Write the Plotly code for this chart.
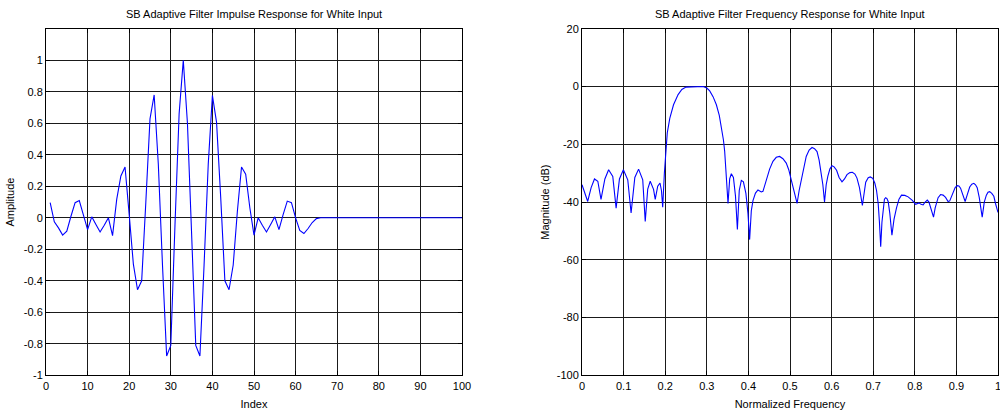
import plotly.graph_objects as go

# ---------------- data ----------------
imp_index = list(range(1, 101))
imp_values = [
    0.096, -0.026, -0.064, -0.11, -0.085, 0.01, 0.096, 0.11, 0.017, -0.075,
    0.006, -0.043, -0.09, -0.047, 0.0, -0.113, 0.117, 0.266, 0.323, 0.02,
    -0.294, -0.457, -0.4, 0.1, 0.628, 0.78, 0.34, -0.3, -0.877, -0.81,
    -0.05, 0.66, 1.0, 0.6, -0.1, -0.81, -0.877, -0.3, 0.34, 0.777,
    0.606, 0.128, -0.4, -0.457, -0.3, 0.04, 0.323, 0.277, 0.064, -0.11,
    0.0, -0.047, -0.09, -0.043, 0.006, -0.075, 0.02, 0.106, 0.096, 0.0,
    -0.08, -0.10, -0.068, -0.03, -0.005, 0.0, 0.0, 0.0, 0.0, 0.0,
    0.0, 0.0, 0.0, 0.0, 0.0, 0.0, 0.0, 0.0, 0.0, 0.0,
    0.0, 0.0, 0.0, 0.0, 0.0, 0.0, 0.0, 0.0, 0.0, 0.0,
    0.0, 0.0, 0.0, 0.0, 0.0, 0.0, 0.0, 0.0, 0.0, 0.0,
]

freq = [
    0.000, 0.0137, 0.022, 0.030, 0.038, 0.0457, 0.055, 0.064, 0.074, 0.082,
    0.090, 0.0995, 0.110, 0.118, 0.127, 0.136, 0.146, 0.152, 0.158, 0.164,
    0.172, 0.176, 0.182, 0.1875, 0.191, 0.194, 0.198, 0.202, 0.205, 0.211,
    0.220, 0.231, 0.240, 0.250, 0.268, 0.291, 0.300, 0.307, 0.315, 0.323,
    0.330, 0.335, 0.340, 0.343, 0.347, 0.351, 0.355, 0.359, 0.364, 0.369,
    0.3735, 0.378, 0.383, 0.388, 0.394, 0.399, 0.403, 0.407, 0.411, 0.417,
    0.423, 0.431, 0.435, 0.443, 0.451, 0.459, 0.467, 0.475, 0.483, 0.491,
    0.497, 0.503, 0.510, 0.517, 0.522, 0.527, 0.533, 0.539, 0.546, 0.553,
    0.559, 0.565, 0.570, 0.575, 0.579, 0.583, 0.587, 0.591, 0.596, 0.601,
    0.606, 0.612, 0.618, 0.625, 0.631, 0.637, 0.644, 0.650, 0.656, 0.661,
    0.667, 0.674, 0.678, 0.682, 0.688, 0.693, 0.699, 0.704, 0.708, 0.712,
    0.715, 0.718, 0.721, 0.724, 0.727, 0.730, 0.733, 0.736, 0.740, 0.745,
    0.750, 0.756, 0.762, 0.768, 0.776, 0.784, 0.790, 0.794, 0.802, 0.810,
    0.815, 0.820, 0.825, 0.830, 0.834, 0.838, 0.845, 0.849, 0.852, 0.856,
    0.862, 0.868, 0.874, 0.880, 0.884, 0.888, 0.892, 0.897, 0.902, 0.906,
    0.910, 0.916, 0.921, 0.926, 0.932, 0.937, 0.942, 0.946, 0.950, 0.955,
    0.962, 0.967, 0.972, 0.976, 0.980, 0.985, 0.990, 0.994, 1.000,
]
mag_db = [
    -34.0, -39.8, -35.0, -32.0, -32.8, -39.1, -32.0, -28.8, -31.1, -42.1,
    -32.0, -28.8, -32.3, -43.8, -31.5, -28.6, -32.3, -46.7, -35.5, -32.8,
    -35.6, -39.1, -34.5, -33.4, -36.0, -41.8, -30.0, -19.6, -16.0, -11.0,
    -6.3, -2.8, -1.0, -0.2, 0.0, 0.0, -0.5, -1.5, -3.5, -6.3,
    -10.0, -13.8, -18.5, -22.5, -30.0, -40.5, -32.0, -30.2, -31.5, -38.0,
    -49.5, -36.0, -32.5, -33.0, -37.0, -44.0, -53.0, -43.0, -39.5, -36.9,
    -35.8, -36.5, -36.3, -32.3, -28.6, -25.9, -24.5, -24.2, -25.0, -26.5,
    -28.8, -32.3, -36.0, -40.5, -36.0, -32.3, -27.5, -24.2, -22.0, -21.1,
    -21.5, -22.5, -25.5, -30.0, -34.0, -40.0, -34.0, -31.0, -28.5, -27.4,
    -27.8, -29.0, -31.5, -33.0, -32.0, -30.5, -29.8, -29.7, -30.3, -31.7,
    -35.0, -41.2, -36.0, -33.1, -31.6, -31.3, -31.8, -33.5, -36.0, -40.5,
    -47.0, -55.5, -47.0, -41.4, -39.0, -38.5, -38.8, -39.8, -44.0, -51.5,
    -46.0, -42.0, -39.0, -37.6, -37.7, -38.2, -38.8, -39.4, -40.8, -40.3,
    -40.8, -41.0, -40.0, -39.3, -40.0, -42.0, -45.2, -42.0, -40.5, -38.5,
    -37.4, -37.6, -38.4, -39.8, -39.6, -38.2, -36.8, -35.0, -34.3, -34.4,
    -35.2, -37.5, -39.8, -37.5, -34.8, -33.8, -33.5, -34.0, -35.0, -38.5,
    -45.2, -40.0, -37.6, -36.6, -36.4, -37.0, -38.0, -40.5, -43.6,
]

left_yticks = [-1, -0.8, -0.6, -0.4, -0.2, 0, 0.2, 0.4, 0.6, 0.8, 1]
left_ytext = ["-1", "-0.8", "-0.6", "-0.4", "-0.2", "0", "0.2", "0.4", "0.6", "0.8", "1"]
left_xticks = [0, 10, 20, 30, 40, 50, 60, 70, 80, 90, 100]
right_yticks = [-100, -80, -60, -40, -20, 0, 20]
right_ytext = ["-100", "-80", "-60", "-40", "-20", "0", "20"]
right_xticks = [0, 0.1, 0.2, 0.3, 0.4, 0.5, 0.6, 0.7, 0.8, 0.9, 1]
right_xtext = ["0", "0.1", "0.2", "0.3", "0.4", "0.5", "0.6", "0.7", "0.8", "0.9", "1"]

FONT = "Liberation Sans, Arial, sans-serif"

fig = go.Figure()
fig.add_trace(go.Scatter(x=imp_index, y=imp_values, mode="lines",
                         line=dict(color="#0000ff", width=1.1, simplify=False),
                         xaxis="x", yaxis="y", showlegend=False))
fig.add_trace(go.Scatter(x=freq, y=mag_db, mode="lines",
                         line=dict(color="#0000ff", width=1.1),
                         xaxis="x2", yaxis="y2", showlegend=False))

axis_common = dict(showline=True, linecolor="black", linewidth=1, mirror="ticks",
                   ticks="inside", ticklen=4, tickcolor="black",
                   showgrid=True, gridcolor="#1a1a1a", gridwidth=1,
                   zeroline=False, automargin=False, ticklabeloverflow="allow",
                   layer="below traces",
                   tickfont=dict(family=FONT, size=11, color="black"))

# plot area offset by a fraction of a pixel so the zero gridline does not
# hide the flat tail of the impulse response
y_dom = [1 - 375.3 / 413, 1 - 28.8 / 413]

fig.update_layout(
    width=1000, height=413,
    margin=dict(l=0, r=0, t=0, b=0, autoexpand=False),
    paper_bgcolor="white", plot_bgcolor="white",
    font=dict(family=FONT, size=11, color="black"),
    xaxis=dict(domain=[0.046, 0.462], range=[0, 100], tickvals=left_xticks,
               title=dict(text="Index", font=dict(family=FONT, size=11), standoff=9),
               anchor="y", **axis_common),
    yaxis=dict(domain=y_dom, range=[-1, 1.2], tickvals=left_yticks, ticktext=left_ytext,
               title=dict(text="Amplitude", font=dict(family=FONT, size=11), standoff=6),
               anchor="x", **axis_common),
    xaxis2=dict(domain=[0.582, 0.998], range=[0, 1], tickvals=right_xticks, ticktext=right_xtext,
                title=dict(text="Normalized Frequency", font=dict(family=FONT, size=11), standoff=9),
                anchor="y2", **axis_common),
    yaxis2=dict(domain=y_dom, range=[-100, 20], tickvals=right_yticks, ticktext=right_ytext,
                title=dict(text="Magnitude (dB)", font=dict(family=FONT, size=11), standoff=4),
                anchor="x2", **axis_common),
    annotations=[
        dict(text="SB Adaptive Filter Impulse Response for White Input",
             x=0.254, y=1 - 14 / 413, xref="paper", yref="paper",
             xanchor="center", yanchor="middle", showarrow=False,
             font=dict(family=FONT, size=11, color="black")),
        dict(text="SB Adaptive Filter Frequency Response for White Input",
             x=0.79, y=1 - 14 / 413, xref="paper", yref="paper",
             xanchor="center", yanchor="middle", showarrow=False,
             font=dict(family=FONT, size=11, color="black")),
    ],
)

fig.write_html("out.html")
